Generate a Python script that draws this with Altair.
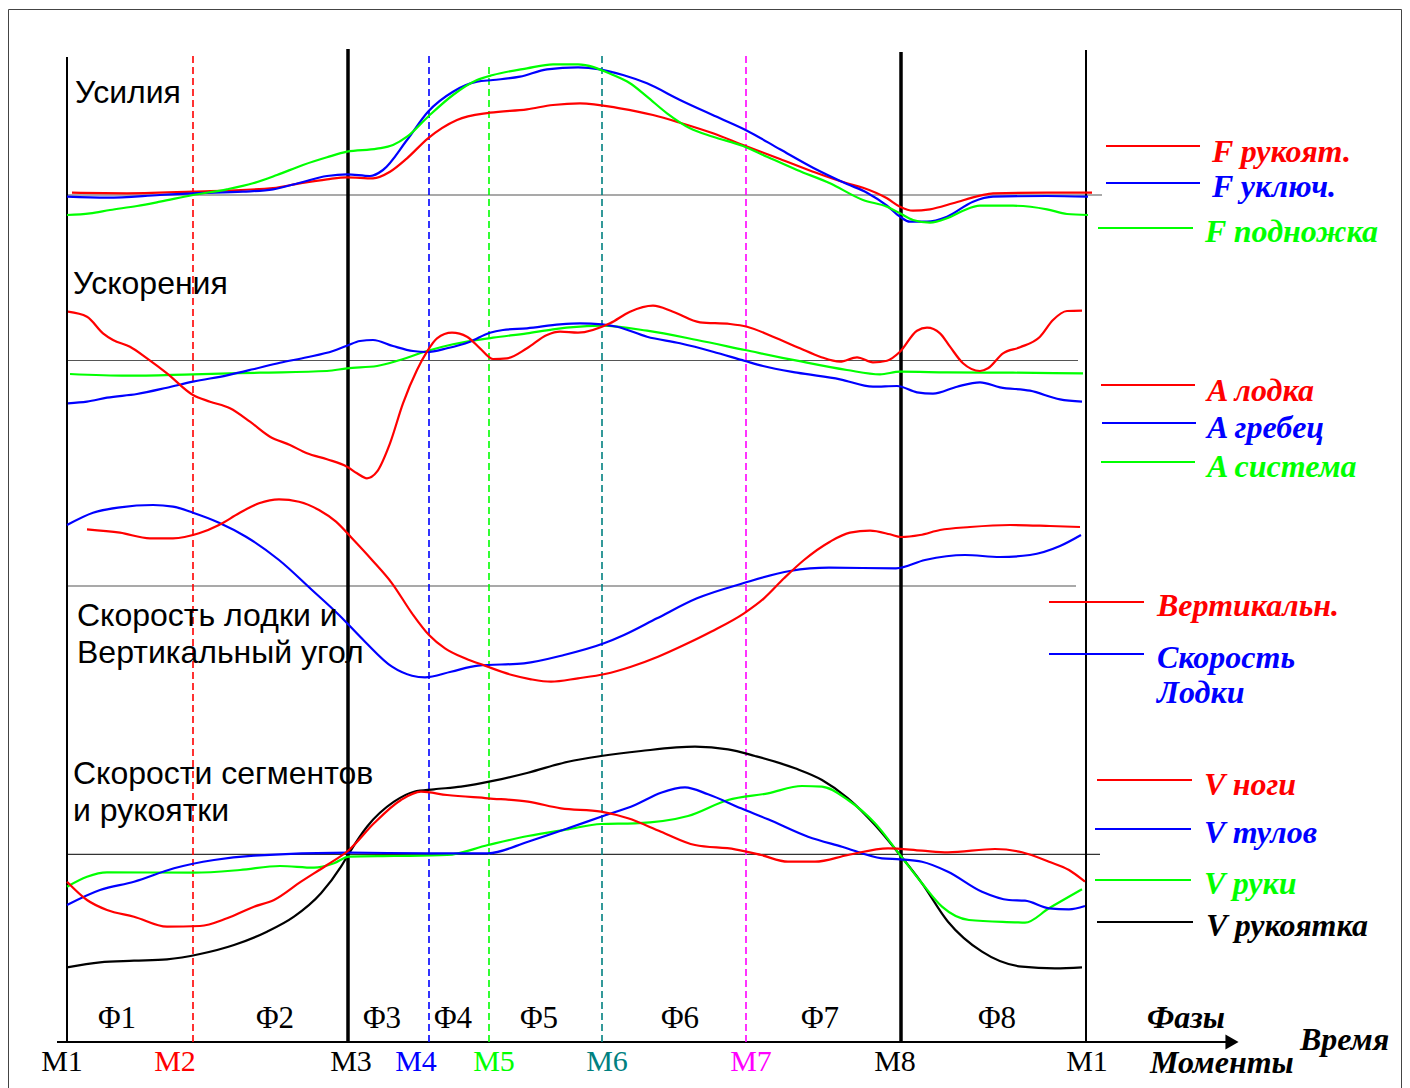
import altair as alt
import pandas as pd

# ---------------- data (time: % of stroke cycle, value: arbitrary units above each zero line)
# Forces panel
F_HANDLE_T = [0.5, 6.0, 12.6, 20.6, 23.3, 26.0, 28.0, 30.6, 32.3, 34.0, 36.1, 39.0, 42.3, 46.0, 48.6, 51.3, 55.3, 58.6, 61.3, 64.6, 67.6, 71.3, 74.6, 78.0, 79.6, 82.0, 83.3, 84.6, 86.3, 88.6, 91.3, 92.6, 98.0, 102.5]
F_HANDLE_V = [2.3, 1.7, 3.3, 7, 11.7, 15.7, 17.7, 16.7, 23.3, 36.7, 56.7, 75, 82.3, 85.7, 90, 91.7, 86.7, 80, 72.3, 61.7, 50, 36, 23.3, 11.7, 7.3, -3.3, -11.7, -15.7, -14.3, -8.3, -0.7, 1.7, 2.3, 2.3]
F_PIN_T = [0.0, 4.0, 9.3, 12.6, 17.6, 20.6, 23.3, 26.0, 28.0, 30.3, 31.6, 34.0, 36.1, 38.6, 41.0, 42.6, 45.3, 48.0, 51.1, 53.3, 55.6, 58.0, 61.3, 65.3, 68.0, 71.3, 74.6, 78.0, 80.0, 82.0, 83.3, 84.3, 86.0, 88.0, 90.6, 92.6, 98.0, 102.1]
F_PIN_V = [-1.7, -2.7, 0, 1.7, 3.3, 5.7, 12.3, 19, 20.7, 19, 25, 55, 83.3, 103.3, 113.3, 115, 118.3, 125.7, 127.7, 125.7, 120, 111.7, 95, 76.7, 64.3, 45.7, 27.3, 11, 2.3, -10.7, -21.7, -26.7, -26.7, -21.7, -6.7, -1.7, -1, -1.7]
F_FOOT_T = [0.0, 2.3, 4.3, 7.0, 9.3, 12.6, 16.0, 18.6, 21.0, 23.6, 26.0, 28.0, 31.0, 32.6, 34.0, 36.1, 38.6, 41.0, 42.6, 46.0, 48.6, 51.1, 54.6, 56.3, 58.0, 60.0, 62.3, 64.6, 67.6, 70.0, 73.0, 76.3, 79.6, 82.0, 83.3, 84.6, 86.3, 88.0, 89.6, 91.3, 94.6, 98.0, 100.0, 102.1]
F_FOOT_V = [-20, -18.3, -15, -11, -6.7, 0, 5.7, 11.7, 20, 30, 37.7, 43.3, 46.3, 50, 58.3, 78.3, 100, 115, 120, 126.7, 130.7, 130.7, 120, 111.7, 98.3, 81.7, 66.7, 58.3, 49, 38.3, 25, 11.7, -5, -11.7, -18.3, -25, -27.7, -23.3, -15.7, -10.7, -10.7, -14.3, -19, -20]

# Accelerations panel
A_BOAT_T = [0.1, 2.0, 3.6, 4.6, 6.3, 8.0, 10.0, 12.6, 14.3, 16.3, 18.3, 20.3, 22.3, 24.0, 26.0, 28.0, 29.0, 30.0, 31.0, 32.3, 33.6, 35.0, 36.0, 37.0, 38.5, 40.0, 41.3, 42.6, 44.0, 46.0, 48.0, 49.3, 51.1, 54.3, 56.3, 58.6, 60.6, 63.3, 66.3, 68.0, 70.6, 73.3, 75.3, 77.3, 79.0, 80.6, 82.0, 83.3, 85.0, 86.0, 87.3, 88.3, 89.6, 91.3, 92.1, 93.6, 95.3, 97.3, 98.6, 100.0, 101.5]
A_BOAT_V = [48.8, 43.8, 27.2, 20.5, 13.8, 2.2, -12.8, -34.5, -41.2, -47.8, -61.2, -76.2, -84.5, -92.8, -98.8, -106.2, -112.8, -117.8, -111.2, -82.8, -42.8, -9.5, 8.8, 22.2, 27.8, 23.8, 12.2, 1.5, 2.2, 12.2, 25.5, 28.8, 27.8, 37.2, 48.8, 54.8, 48.8, 38.2, 36.5, 33.8, 23.8, 12.2, 3.8, -1.2, 3.2, -1.8, -0.2, 8.8, 29.8, 32.8, 27.2, 13.8, -2.8, -10.5, -7.8, 7.2, 13.2, 23.8, 40.5, 49.5, 49.8]
A_ROWER_T = [0.1, 2.0, 4.0, 7.0, 10.0, 12.6, 16.0, 18.6, 21.3, 24.0, 26.6, 28.0, 29.3, 30.6, 32.6, 34.6, 36.0, 38.0, 40.3, 42.3, 43.6, 46.0, 49.3, 51.3, 53.5, 55.0, 58.0, 61.3, 64.6, 67.8, 69.6, 73.0, 77.3, 80.6, 83.0, 85.0, 86.6, 89.0, 91.3, 93.3, 96.3, 99.3, 101.5]
A_ROWER_V = [-42.8, -41.2, -37.2, -33.5, -27.2, -21.2, -14.8, -8.8, -2.2, 3.2, 9.5, 14.8, 19.5, 20.5, 14.5, 9.5, 8.5, 12.2, 18.8, 27.8, 30.5, 32.2, 36.2, 37.2, 36.2, 33.8, 23.8, 17.2, 8.8, -0.5, -5.5, -12.2, -18.8, -26.2, -25.5, -31.8, -33.2, -26.2, -21.8, -26.8, -30.2, -38.8, -41.2]
A_SYSTEM_T = [0.3, 6.0, 12.6, 19.3, 26.0, 28.0, 31.0, 33.3, 36.0, 38.6, 42.6, 46.0, 48.6, 51.3, 53.5, 58.0, 63.0, 67.8, 73.0, 78.0, 81.3, 83.3, 88.0, 94.6, 101.6]
A_SYSTEM_V = [-13.5, -15.2, -13.8, -12.2, -10.5, -7.8, -5.5, 0.5, 9.5, 16.2, 22.8, 27.2, 31.2, 33.8, 34.8, 29.8, 20.5, 10.5, -0.2, -9.5, -13.8, -11.2, -11.8, -12.2, -12.8]

# Boat speed / vertical angle panel
VERT_T = [2.0, 5.3, 8.3, 10.6, 13.2, 15.2, 17.2, 19.2, 21.2, 23.2, 25.2, 26.9, 28.5, 30.5, 32.5, 34.5, 36.2, 37.8, 39.8, 41.8, 44.5, 46.4, 48.4, 51.1, 53.8, 56.4, 59.1, 61.7, 64.4, 67.7, 69.7, 71.7, 73.7, 76.3, 78.3, 80.3, 82.3, 83.4, 85.3, 87.3, 90.3, 94.3, 98.3, 101.3]
VERT_V = [56.7, 53.3, 47.7, 47.7, 52.7, 61, 72.7, 82.7, 86.7, 84.3, 76, 64.3, 47.7, 26, 2.7, -27.3, -49, -62.3, -72.3, -79.7, -89, -93.3, -95.7, -92.3, -88, -80.7, -70.7, -59, -45.7, -27.3, -12.3, 7.7, 26, 44.3, 53.3, 55.3, 51.7, 49, 51, 56, 59, 61, 60, 59]
SPEED_T = [0.0, 2.6, 5.3, 8.6, 10.6, 12.6, 15.2, 17.9, 21.2, 24.5, 27.2, 29.8, 32.5, 34.5, 35.8, 38.4, 41.1, 45.7, 49.7, 53.7, 55.7, 59.0, 63.0, 67.6, 72.3, 76.2, 82.9, 85.8, 89.8, 93.3, 96.3, 99.3, 101.4]
SPEED_V = [61, 73.3, 78.7, 81, 79.3, 73.3, 63.3, 49.3, 26, -4, -29, -55.7, -80.7, -89.7, -91.3, -85.7, -79.7, -77.3, -69, -57.3, -49, -32.3, -12.3, 2.7, 15, 18.3, 17.7, 26, 31, 29, 31, 40, 51]

# Segment speeds panel
V_HANDLE_T = [0.0, 3.3, 6.7, 10.0, 13.3, 16.7, 20.0, 22.7, 25.4, 27.4, 28.2, 30.0, 32.7, 34.7, 36.7, 39.4, 42.7, 46.1, 50.1, 53.4, 57.4, 62.8, 66.1, 68.8, 72.8, 75.5, 78.1, 80.8, 83.3, 85.5, 88.1, 91.5, 95.5, 98.8, 101.5]
V_HANDLE_V = [-113, -108, -106.4, -105, -99.7, -90.7, -77.4, -62.4, -39, -12.4, 1, 27.6, 52.6, 62.6, 65, 67.6, 73.6, 81.6, 92.6, 98.3, 103.3, 107.6, 105, 98.3, 86, 74.3, 56, 29.3, -0.7, -29, -67.4, -97.4, -112.4, -114, -113]
V_LEGS_T = [0.0, 2.0, 4.0, 6.7, 10.0, 13.3, 16.0, 18.7, 20.7, 23.4, 26.0, 28.2, 30.7, 33.4, 35.4, 38.0, 42.1, 46.1, 49.4, 53.4, 56.1, 59.4, 62.8, 66.8, 69.4, 72.1, 74.8, 78.1, 82.1, 85.5, 88.1, 92.8, 95.5, 98.2, 100.2, 101.8]
V_LEGS_V = [-27.4, -45.7, -55.7, -62.4, -72.4, -71.7, -64, -52.4, -45.7, -27.4, -10.7, 4.3, 31, 54.3, 62.6, 59.3, 56, 52.6, 46, 42.6, 36, 22.6, 9.3, 5, -0.7, -7.4, -7.4, -0.7, 6, 3.6, 2, 5.3, 2, -7.4, -15.7, -27.4]
V_TRUNK_T = [0.0, 3.3, 6.7, 10.7, 14.7, 18.7, 28.2, 36.0, 42.1, 46.1, 50.1, 53.4, 56.8, 59.4, 61.8, 64.1, 67.4, 70.1, 74.1, 77.5, 81.5, 83.3, 85.5, 88.1, 91.5, 94.2, 95.8, 98.2, 100.2, 101.8]
V_TRUNK_V = [-50.7, -35.7, -27.4, -14, -5.7, -1.4, 1.6, 1, 1, 12.6, 26, 37.6, 49.3, 61.6, 67, 60, 46, 35, 17.6, 7.6, -4, -5, -7.4, -17.4, -37.4, -45.7, -46.4, -54, -55, -51.7]
V_ARMS_T = [0.0, 2.0, 4.0, 12.7, 17.3, 21.3, 24.7, 26.7, 28.2, 32.7, 38.0, 42.1, 46.1, 50.1, 53.4, 56.8, 62.1, 66.1, 70.1, 73.5, 75.5, 78.1, 80.8, 83.3, 85.5, 87.5, 90.2, 94.8, 95.8, 98.2, 101.5]
V_ARMS_V = [-32.4, -22.4, -18, -18.4, -15.7, -11.7, -13.4, -9, -2.4, -1.7, -0.7, 9.3, 18.3, 25, 30.3, 31, 38.3, 54.3, 61, 68.3, 67.6, 54.3, 31, -0.7, -29, -52.4, -65.7, -68, -68.4, -54, -35]

# Legend labels
LEG_FORCES = ["F рукоят.", "F уключ.", "F подножка"]
LEG_ACCEL = ["A лодка", "A гребец", "A система"]
LEG_BOAT = ["Вертикальн.", "Скорость"]
LEG_SEG = ["V ноги", "V тулов", "V руки", "V рукоятка"]
SECTIONS = ["Усилия", "Ускорения", "Скорость лодки и", "Вертикальный угол", "Скорости сегментов", "и рукоятки"]
PHASES = ["Φ1", "Φ2", "Φ3", "Φ4", "Φ5", "Φ6", "Φ7", "Φ8"]
MOMENTS = ["M1", "M2", "M3", "M4", "M5", "M6", "M7", "M8", "M1"]
MOMENT_T = [0.0, 12.6, 28.1, 36.2, 42.2, 53.5, 67.9, 83.4, 101.9]

# ---------------- layout
RED, BLUE, GREEN, BLACK = "#ff0000", "#0000ff", "#00ff00", "#000000"
TEAL, MAGENTA = "#008080", "#ff00ff"
ZERO = {"forces": 893, "accel": 727.5, "boat": 502, "seg": 233.7}

series = [
    ("fh", "forces", RED, F_HANDLE_T, F_HANDLE_V),
    ("fp", "forces", BLUE, F_PIN_T, F_PIN_V),
    ("ff", "forces", GREEN, F_FOOT_T, F_FOOT_V),
    ("as", "accel", GREEN, A_SYSTEM_T, A_SYSTEM_V),
    ("ar", "accel", BLUE, A_ROWER_T, A_ROWER_V),
    ("ab", "accel", RED, A_BOAT_T, A_BOAT_V),
    ("bs", "boat", BLUE, SPEED_T, SPEED_V),
    ("bv", "boat", RED, VERT_T, VERT_V),
    ("vh", "seg", BLACK, V_HANDLE_T, V_HANDLE_V),
    ("va", "seg", GREEN, V_ARMS_T, V_ARMS_V),
    ("vt", "seg", BLUE, V_TRUNK_T, V_TRUNK_V),
    ("vl", "seg", RED, V_LEGS_T, V_LEGS_V),
]
rows = []
for k, (name, panel, col, ts, vs) in enumerate(series):
    for i, (t, v) in enumerate(zip(ts, vs)):
        rows.append({"t": t, "y": ZERO[panel] + v, "s": f"{k:02d}{name}", "c": col, "o": i})
curves = pd.DataFrame(rows)

XS = alt.Scale(domain=[-5.9, 133.5], nice=False, zero=False)
YS = alt.Scale(domain=[0, 1080], nice=False, zero=False)


def X(f="x"):
    return alt.X(f"{f}:Q", scale=XS, axis=None)


def Y(f="y"):
    return alt.Y(f"{f}:Q", scale=YS, axis=None)


# solid rules: frame, zero lines, moment lines, legend lines, time axis
solid = []
def seg(x, x2, y, y2, c, w):
    solid.append({"x": x, "x2": x2, "y": y, "y2": y2, "c": c, "w": w})

# frame
seg(-5.85, 133.45, 1078.5, 1078.5, "#444444", 1)
seg(-5.85, -5.85, 0, 1078.5, "#444444", 1)
seg(133.45, 133.45, 0, 1078.5, "#444444", 1)
# zero lines
seg(0, 103.5, ZERO["forces"], ZERO["forces"], "#555555", 1.2)
seg(0, 101.1, ZERO["accel"], ZERO["accel"], "#555555", 1.2)
seg(0, 100.9, ZERO["boat"], ZERO["boat"], "#555555", 1.2)
seg(0, 103.3, ZERO["seg"], ZERO["seg"], "#333333", 1.2)
# solid moment lines
seg(MOMENT_T[0], MOMENT_T[0], 46, 1031, BLACK, 2)
seg(MOMENT_T[2], MOMENT_T[2], 46, 1039, BLACK, 3.5)
seg(MOMENT_T[7], MOMENT_T[7], 46, 1036, BLACK, 3.5)
seg(MOMENT_T[8], MOMENT_T[8], 46, 1038, BLACK, 2)
# time axis
seg(-1.0, 116.0, 46, 46, BLACK, 1.8)
# legend lines
for (x1, x2, y, c) in [
    (103.9, 113.3, 942, RED), (103.9, 113.3, 905, BLUE), (103.1, 112.6, 860, GREEN),
    (103.4, 112.8, 703, RED), (103.5, 112.9, 665, BLUE), (103.4, 112.8, 626, GREEN),
    (98.2, 107.7, 486, RED), (98.2, 107.7, 434, BLUE),
    (103.0, 112.5, 308, RED), (102.8, 112.4, 259, BLUE), (102.8, 112.4, 208, GREEN), (103.0, 112.6, 166, BLACK),
]:
    seg(x1, x2, y, y, c, 2)
solid_df = pd.DataFrame(solid)

dashed_df = pd.DataFrame({
    "x": [MOMENT_T[1], MOMENT_T[3], MOMENT_T[4], MOMENT_T[5], MOMENT_T[6]],
    "y": [46] * 5,
    "y2": [1036, 1033, 1025, 1033, 1036],
    "c": [RED, BLUE, GREEN, TEAL, MAGENTA],
})
dashed_df["x2"] = dashed_df["x"]

rules_solid = alt.Chart(solid_df).mark_rule(strokeCap="butt").encode(
    x=X(), x2="x2:Q", y=Y(), y2="y2:Q",
    color=alt.Color("c:N", scale=None), strokeWidth=alt.StrokeWidth("w:Q", scale=None),
)
rules_dashed = alt.Chart(dashed_df).mark_rule(strokeDash=[7, 4], strokeWidth=1.6).encode(
    x=X(), x2="x2:Q", y=Y(), y2="y2:Q", color=alt.Color("c:N", scale=None),
)

lines = alt.Chart(curves).mark_line(strokeWidth=2.2, interpolate="monotone").encode(
    x=X("t"), y=Y("y"), color=alt.Color("c:N", scale=None), detail="s:N", order="o:Q",
)

arrow = alt.Chart(pd.DataFrame({"x": [116.5], "y": [46]})).mark_point(
    shape="triangle-right", filled=True, size=230, color=BLACK, opacity=1
).encode(x=X(), y=Y())

# texts
sec_df = pd.DataFrame({"x": [0.8, 0.6, 1.0, 1.0, 0.6, 0.6], "y": [995, 804, 472, 435, 314, 277], "text": SECTIONS})
sec = alt.Chart(sec_df).mark_text(font="Liberation Sans", fontSize=32, align="left", baseline="middle", color=BLACK).encode(
    x=X(), y=Y(), text="text:N")

leg_df = pd.DataFrame({
    "x": [114.5, 114.5, 113.8, 114.0, 114.0, 114.0, 109.0, 109.0, 109.0, 113.7, 113.7, 113.7, 113.9],
    "y": [936, 901, 856, 697, 660, 621, 482, 430, 395, 303, 255, 204, 162],
    "text": LEG_FORCES + LEG_ACCEL + LEG_BOAT + ["Лодки"] + LEG_SEG,
    "c": [RED, BLUE, GREEN, RED, BLUE, GREEN, RED, BLUE, BLUE, RED, BLUE, GREEN, BLACK],
})
axis_words = pd.DataFrame({"x": [108.0, 123.3, 108.3], "y": [70, 48, 25], "text": ["Фазы", "Время", "Моменты"], "c": [BLACK] * 3})
leg = alt.Chart(pd.concat([leg_df, axis_words])).mark_text(
    font="Liberation Serif", fontSize=32, fontWeight="bold", fontStyle="italic", align="left", baseline="middle"
).encode(x=X(), y=Y(), text="text:N", color=alt.Color("c:N", scale=None))

ph_df = pd.DataFrame({"x": [5.0, 20.8, 31.5, 38.6, 47.2, 61.3, 75.3, 93.0], "y": [69] * 8, "text": PHASES})
ph = alt.Chart(ph_df).mark_text(font="Liberation Serif", fontSize=31, align="center", baseline="middle", color=BLACK).encode(
    x=X(), y=Y(), text="text:N")

mo_df = pd.DataFrame({
    "x": [-0.5, 10.8, 28.4, 34.9, 42.7, 54.0, 68.4, 82.8, 102.0], "y": [26] * 9, "text": MOMENTS,
    "c": [BLACK, RED, BLACK, BLUE, GREEN, TEAL, MAGENTA, BLACK, BLACK],
})
mo = alt.Chart(mo_df).mark_text(font="Liberation Serif", fontSize=30, align="center", baseline="middle").encode(
    x=X(), y=Y(), text="text:N", color=alt.Color("c:N", scale=None))

chart = alt.layer(rules_solid, rules_dashed, lines, arrow, sec, leg, ph, mo).properties(
    width=1394, height=1080, autosize=alt.AutoSizeParams(type="none"), padding=0,
).configure_view(stroke=None)

chart.save("out.html", embed_options={"renderer": "svg", "actions": False})
